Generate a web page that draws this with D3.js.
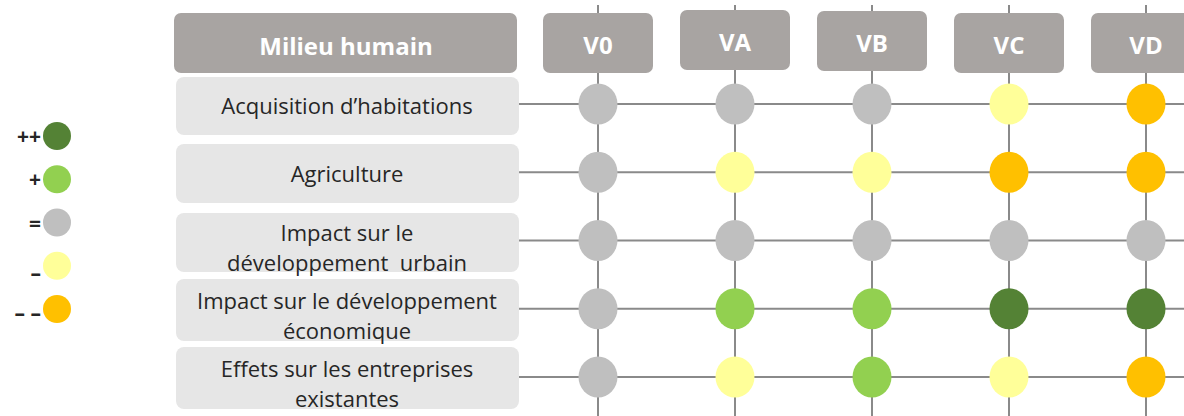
<!DOCTYPE html>
<html><head><meta charset="utf-8">
<script src="https://cdn.jsdelivr.net/npm/d3@7"></script>
<style>html,body{margin:0;padding:0;background:#fff;overflow:hidden}</style>
</head><body>
<svg id="c" width="1184" height="416"></svg>
<script>
// ---- data ----
const sectionTitle = "Milieu humain";
const variants = ["V0", "VA", "VB", "VC", "VD"];
const criteria = [
  ["Acquisition d\u2019habitations"],
  ["Agriculture"],
  ["Impact sur le", "d\u00e9veloppement  urbain"],
  ["Impact sur le d\u00e9veloppement", "\u00e9conomique"],
  ["Effets sur les entreprises", "existantes"]
];
// scores per criterion, in variant order (2 = ++, 1 = +, 0 = =, -1 = \u2013, -2 = \u2013 \u2013)
const acquisition = [0, 0, 0, -1, -2];
const agriculture = [0, -1, -1, -2, -2];
const urbain = [0, 0, 0, 0, 0];
const economique = [0, 1, 1, 2, 2];
const entreprises = [0, -1, 1, -1, -2];
const scores = [acquisition, agriculture, urbain, economique, entreprises];
const legendLevels = [2, 1, 0, -1, -2];
const legendLabels = ["++", "+", "=", "\u2013", "\u2013 \u2013"];
const levelColors = ["#548235", "#92d050", "#bfbfbf", "#ffff99", "#ffc000"];

// ---- layout ----
const svg = d3.select("#c");
const font = "'Open Sans', sans-serif";
const x = d3.scalePoint().domain(variants).range([598, 1146]);
const y = d3.scalePoint().domain(d3.range(criteria.length)).range([104, 377]);
const color = d3.scaleOrdinal().domain(legendLevels).range(levelColors);
const headerDy = [0, -3, -2, 0, 0];
const lineCol = "#8a8a8a";

// grid lines
svg.append("g").selectAll("line").data(variants).join("line")
  .attr("x1", d => x(d)).attr("x2", d => x(d))
  .attr("y1", 5).attr("y2", 416)
  .attr("stroke", lineCol).attr("stroke-width", 2);
svg.append("g").selectAll("line").data(criteria).join("line")
  .attr("x1", 519).attr("x2", 1184)
  .attr("y1", (d, i) => y(i)).attr("y2", (d, i) => y(i))
  .attr("stroke", lineCol).attr("stroke-width", 2);

// section header
svg.append("rect").attr("x", 174).attr("y", 13).attr("width", 343).attr("height", 60)
  .attr("rx", 7).attr("fill", "#a8a4a2");
svg.append("text").attr("x", 346).attr("y", 45).attr("text-anchor", "middle")
  .attr("dominant-baseline", "central").attr("fill", "#fff")
  .attr("font-family", font).attr("font-weight", 700).attr("font-size", 24)
  .text(sectionTitle);

// column headers
const hw = 110, hh = 60;
const hg = svg.append("g").selectAll("g").data(variants).join("g");
hg.append("rect")
  .attr("x", d => x(d) - hw / 2).attr("y", (d, i) => 13 + headerDy[i])
  .attr("width", hw).attr("height", hh).attr("rx", 7).attr("fill", "#a8a4a2");
hg.append("text")
  .attr("x", d => x(d)).attr("y", (d, i) => 44 + headerDy[i])
  .attr("text-anchor", "middle").attr("dominant-baseline", "central")
  .attr("fill", "#fff").attr("font-family", font).attr("font-weight", 700)
  .attr("font-size", 24).text(d => d);

// criterion boxes
const boxTop = [77, 144, 213, 279, 347];
const boxH = [58, 59, 59, 62, 62];
const rg = svg.append("g").selectAll("g").data(criteria).join("g");
rg.append("rect")
  .attr("x", 176).attr("y", (d, i) => boxTop[i]).attr("width", 343)
  .attr("height", (d, i) => boxH[i]).attr("rx", 8).attr("fill", "#e6e6e6");
rg.each(function (lines, i) {
  const g = d3.select(this);
  lines.forEach((t, k) => {
    g.append("text").attr("x", 347)
      .attr("y", lines.length === 1 ? y(i) + 1 : y(i) - 9 + k * 30)
      .attr("text-anchor", "middle").attr("dominant-baseline", "central")
      .attr("fill", "#262626").attr("font-family", font).attr("font-size", 22)
      .attr("xml:space", "preserve")
      .text(t);
  });
});

// score circles
const cells = [];
scores.forEach((row, i) => row.forEach((v, j) => cells.push({ i, v, col: variants[j] })));
svg.append("g").selectAll("ellipse").data(cells).join("ellipse")
  .attr("cx", d => x(d.col)).attr("cy", d => y(d.i))
  .attr("rx", 19.5).attr("ry", 20.5)
  .attr("fill", d => color(d.v));

// legend
const ly = d3.scalePoint().domain(legendLevels).range([136, 309]);
const lg = svg.append("g").selectAll("g").data(legendLevels).join("g");
lg.append("circle").attr("cx", 57).attr("cy", d => ly(d)).attr("r", 14)
  .attr("fill", d => color(d));
lg.append("text").attr("x", 41).attr("y", (d, i) => ly(d) + (d === -1 ? 7 : d === -2 ? 4 : 0))
  .attr("text-anchor", "end").attr("dominant-baseline", "central")
  .attr("fill", "#262626").attr("font-family", font).attr("font-weight", 700)
  .attr("font-size", 21).text((d, i) => legendLabels[i]);
</script>
</body></html>
